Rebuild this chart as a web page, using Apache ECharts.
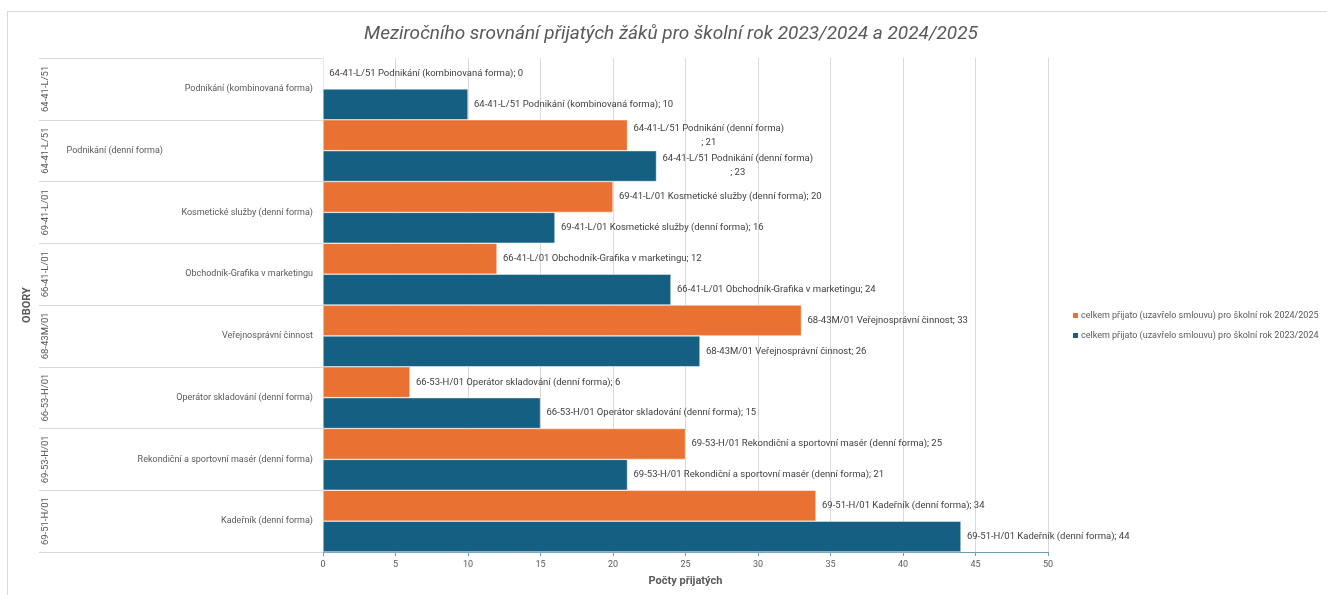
<!DOCTYPE html>
<html>
<head>
<meta charset="utf-8">
<script src="https://cdn.jsdelivr.net/npm/echarts@6/dist/echarts.min.js"></script>
<style>html,body{margin:0;padding:0;background:#fff;}#c{width:1327px;height:595px;}</style>
</head>
<body>
<div id="c"></div>
<script>
// Data (top to bottom as displayed)
const codes = ['64-41-L/51','64-41-L/51','69-41-L/01','66-41-L/01','68-43M/01','66-53-H/01','69-53-H/01','69-51-H/01'];
const names = ['Podnikání (kombinovaná forma)','Podnikání (denní forma)','Kosmetické služby (denní forma)','Obchodník-Grafika v marketingu','Veřejnosprávní činnost','Operátor skladování (denní forma)','Rekondiční a sportovní masér (denní forma)','Kadeřník (denní forma)'];
const values2025 = [0, 21, 20, 12, 33, 6, 25, 34];
const values2024 = [10, 23, 16, 24, 26, 15, 21, 44];
const seriesNames = ['celkem přijato (uzavřelo smlouvu) pro školní rok 2024/2025','celkem přijato (uzavřelo smlouvu) pro školní rok 2023/2024'];
const xTicks = [0,5,10,15,20,25,30,35,40,45,50];
const wrappedIdx = [1];

const FONT = 'Roboto';
const LBL_SIZE = 9.5;
const ctx = document.createElement('canvas').getContext('2d');
ctx.font = LBL_SIZE + 'px ' + FONT;

function labelText(i, v, wrap) {
  return codes[i] + ' ' + names[i] + (wrap ? '\n; ' : '; ') + v;
}
function buildData(vals) {
  return vals.map((v, i) => {
    const wrap = wrappedIdx.indexOf(i) >= 0;
    const item = { value: v };
    if (wrap) {
      const w = ctx.measureText(codes[i] + ' ' + names[i]).width;
      item.label = { align: 'center', offset: [w / 2, 0] };
    }
    return item;
  });
}
function fmt(p) {
  const wrap = wrappedIdx.indexOf(p.dataIndex) >= 0;
  return labelText(p.dataIndex, p.value, wrap);
}

const chart = echarts.init(document.getElementById('c'), null, { renderer: 'canvas' });
const nameAxisData = names.map((n, i) => i === 1 ? { value: n, textStyle: { padding: [0, 150, 0, 0] } } : n);

const option = {
  animation: false,
  textStyle: { fontFamily: FONT },
  title: {
    text: 'Meziročního srovnání přijatých žáků pro školní rok 2023/2024 a 2024/2025',
    left: 666, top: 20, textAlign: 'center',
    textStyle: { fontFamily: FONT, fontStyle: 'italic', fontWeight: 'normal', fontSize: 19, color: '#595959' }
  },
  legend: {
    orient: 'vertical', left: 1066, top: 306,
    itemWidth: 7, itemHeight: 7, itemGap: 11,
    icon: 'rect',
    data: seriesNames,
    textStyle: { fontFamily: FONT, fontSize: 9, color: '#595959', padding: [0,0,0,-3] }
  },
  graphic: [
    { type: 'line', shape: { x1: 7, y1: 11.5, x2: 1327, y2: 11.5 }, style: { stroke: '#d9d9d9', lineWidth: 1 } },
    { type: 'line', shape: { x1: 7.5, y1: 11, x2: 7.5, y2: 595 }, style: { stroke: '#d9d9d9', lineWidth: 1 } }
  ],
  grid: { left: 323, right: 279, top: 58, bottom: 43, containLabel: false },
  xAxis: {
    type: 'value', min: 0, max: 50, interval: 5,
    name: 'Počty přijatých', nameLocation: 'middle', nameGap: 24,
    nameTextStyle: { fontFamily: FONT, fontWeight: 'bold', fontSize: 11, color: '#595959' },
    axisLine: { show: true, lineStyle: { color: '#6a9bbb', width: 1 } },
    axisTick: { show: true, length: 4, lineStyle: { color: '#6a9bbb' } },
    axisLabel: { fontFamily: FONT, fontSize: 9, color: '#595959', margin: 8,
      formatter: v => xTicks.indexOf(v) >= 0 ? String(v) : '' },
    splitLine: { show: true, lineStyle: { color: '#d9d9d9', width: 1 } }
  },
  yAxis: [
    {
      type: 'category', inverse: true, data: nameAxisData,
      axisLine: { show: true, lineStyle: { color: '#d9d9d9' } },
      axisTick: { show: true, length: 284, lineStyle: { color: '#d9d9d9' } },
      axisLabel: { interval: 0, fontFamily: FONT, fontSize: 9, color: '#595959', margin: 10 }
    },
    {
      type: 'category', inverse: true, data: codes, position: 'left', offset: 272,
      name: 'OBORY', nameLocation: 'middle', nameRotate: 90, nameGap: 15,
      nameTextStyle: { fontFamily: FONT, fontWeight: 'bold', fontSize: 11, color: '#595959' },
      axisLine: { show: false }, axisTick: { show: false },
      axisLabel: { interval: 0, fontFamily: FONT, fontSize: 9.5, color: '#595959', rotate: 90, margin: 0 }
    }
  ],
  series: [
    {
      name: seriesNames[0], type: 'bar', yAxisIndex: 0, data: buildData(values2025),
      barCategoryGap: '0%', barGap: '0%',
      itemStyle: { color: '#E97132', borderColor: '#fff', borderWidth: 0.5 },
      label: { show: true, position: 'right', distance: 6, formatter: fmt,
        fontFamily: FONT, fontSize: LBL_SIZE, color: '#404040', lineHeight: 14 }
    },
    {
      name: seriesNames[1], type: 'bar', yAxisIndex: 0, data: buildData(values2024),
      barCategoryGap: '0%', barGap: '0%',
      itemStyle: { color: '#156082', borderColor: '#fff', borderWidth: 0.5 },
      label: { show: true, position: 'right', distance: 6, formatter: fmt,
        fontFamily: FONT, fontSize: LBL_SIZE, color: '#404040', lineHeight: 14 }
    }
  ]
};
chart.setOption(option);
</script>
</body>
</html>
